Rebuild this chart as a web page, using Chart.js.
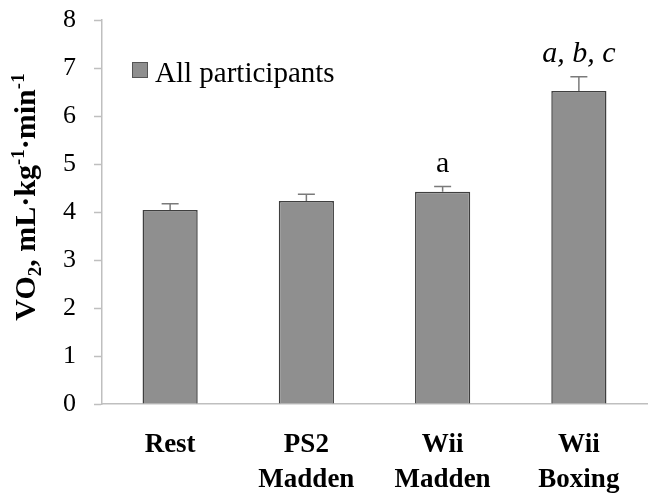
<!DOCTYPE html>
<html>
<head>
<meta charset="utf-8">
<script src="https://cdn.jsdelivr.net/npm/chart.js@4.4.0/dist/chart.umd.min.js"></script>
<style>
  html, body { margin: 0; padding: 0; background: #fff; }
  #wrap { width: 659px; height: 499px; position: relative; }
</style>
</head>
<body>
<div id="wrap"><canvas id="vo2"></canvas></div>
<script>
    // data
    var categories = ["Rest", ["PS2", "Madden"], ["Wii", "Madden"], ["Wii", "Boxing"]];
    var vo2Means = [4.04, 4.23, 4.42, 6.52];
    var vo2Errors = [0.13, 0.14, 0.11, 0.30];
    var sigLetters = ["", "", "a", "a, b, c"];
    var sigItalic = [false, false, false, true];
    var yTicks = [0, 1, 2, 3, 4, 5, 6, 7, 8];

    var SERIF = "'Liberation Serif', 'Times New Roman', serif";
    var BAR_FILL = '#8f8f8f';
    var BAR_EDGE = '#3f3f3f';
    var AXIS_GREY = '#bfbfbf';

    // error bars + significance letters above each bar
    var errorBars = {
        id: 'errorBars',
        afterDatasetsDraw: function (chart) {
            var ctx = chart.ctx;
            var y = chart.scales.y;
            var meta = chart.getDatasetMeta(0);
            ctx.save();
            meta.data.forEach(function (bar, i) {
                var top = y.getPixelForValue(vo2Means[i] + vo2Errors[i]);
                var base = y.getPixelForValue(vo2Means[i]);
                ctx.strokeStyle = '#7a7a7a';
                ctx.lineWidth = 1.5;
                ctx.beginPath();
                ctx.moveTo(bar.x, base);
                ctx.lineTo(bar.x, top);
                ctx.moveTo(bar.x - 8.5, top);
                ctx.lineTo(bar.x + 8.5, top);
                ctx.stroke();

                if (sigLetters[i]) {
                    ctx.fillStyle = '#000';
                    ctx.textAlign = 'center';
                    ctx.textBaseline = 'alphabetic';
                    ctx.font = (sigItalic[i] ? 'italic ' : '') + '30px ' + SERIF;
                    ctx.fillText(sigLetters[i], bar.x, top - 15);
                }
            });
            ctx.restore();
        }
    };

    // legend box inside the plot + y title with sub/superscripts
    var decorations = {
        id: 'decorations',
        afterDraw: function (chart) {
            var ctx = chart.ctx;
            ctx.save();

            // legend
            ctx.fillStyle = BAR_FILL;
            ctx.fillRect(132, 62, 15, 15);
            ctx.strokeStyle = '#555';
            ctx.lineWidth = 1;
            ctx.strokeRect(132.5, 62.5, 15, 15);
            ctx.fillStyle = '#000';
            ctx.font = '29px ' + SERIF;
            ctx.textAlign = 'left';
            ctx.textBaseline = 'alphabetic';
            ctx.fillText(chart.data.datasets[0].label, 155, 82);

            // y axis title
            var parts = [
                { t: 'VO', size: 30, dy: 0 },
                { t: '2', size: 19, dy: 6 },
                { t: ', mL\u00b7kg', size: 30, dy: 0 },
                { t: '-1', size: 19, dy: -11 },
                { t: '\u00b7min', size: 30, dy: 0 },
                { t: '-1', size: 19, dy: -11 }
            ];
            var total = 0;
            parts.forEach(function (p) {
                ctx.font = 'bold ' + p.size + 'px ' + SERIF;
                p.w = ctx.measureText(p.t).width;
                total += p.w;
            });
            ctx.translate(35, 197);
            ctx.rotate(-Math.PI / 2);
            var x = -total / 2;
            parts.forEach(function (p) {
                ctx.font = 'bold ' + p.size + 'px ' + SERIF;
                ctx.fillText(p.t, x, p.dy);
                x += p.w;
            });
            ctx.restore();
        }
    };

    var ctx = document.getElementById('vo2').getContext('2d');
    new Chart(ctx, {
        type: 'bar',
        data: {
            labels: categories,
            datasets: [{
                label: 'All participants',
                data: vo2Means,
                backgroundColor: BAR_FILL,
                borderColor: BAR_EDGE,
                borderWidth: 1.5,
                categoryPercentage: 1,
                barPercentage: 0.405
            }]
        },
        options: {
            responsive: true,
            maintainAspectRatio: false,
            animation: false,
            layout: { padding: { top: 20, right: 12, left: 0, bottom: 0 } },
            plugins: {
                legend: { display: false },
                tooltip: { enabled: false }
            },
            scales: {
                x: {
                    grid: { display: true, drawOnChartArea: false, drawTicks: false },
                    border: { color: AXIS_GREY, width: 1.5 },
                    ticks: {
                        color: '#000',
                        padding: 23,
                        maxRotation: 0,
                        font: { family: SERIF, size: 27, weight: 'bold', lineHeight: 1.32 }
                    },
                    afterFit: function (scale) {
                        scale.height = 95;
                        scale.paddingLeft = 0;
                        scale.paddingRight = 0;
                    }
                },
                y: {
                    min: yTicks[0],
                    max: yTicks[yTicks.length - 1],
                    grid: { drawOnChartArea: false, drawTicks: true, tickLength: 8, tickColor: AXIS_GREY, tickWidth: 1.5 },
                    border: { color: AXIS_GREY, width: 1.5 },
                    afterBuildTicks: function (scale) {
                        scale.ticks = yTicks.map(function (v) { return { value: v }; });
                    },
                    ticks: {
                        color: '#000',
                        padding: 18,
                        font: { family: SERIF, size: 26 }
                    },
                    afterFit: function (scale) {
                        scale.width = 102;
                        scale.paddingTop = 0;
                        scale.paddingBottom = 0;
                    }
                }
            }
        },
        plugins: [errorBars, decorations]
    });
</script>
</body>
</html>
